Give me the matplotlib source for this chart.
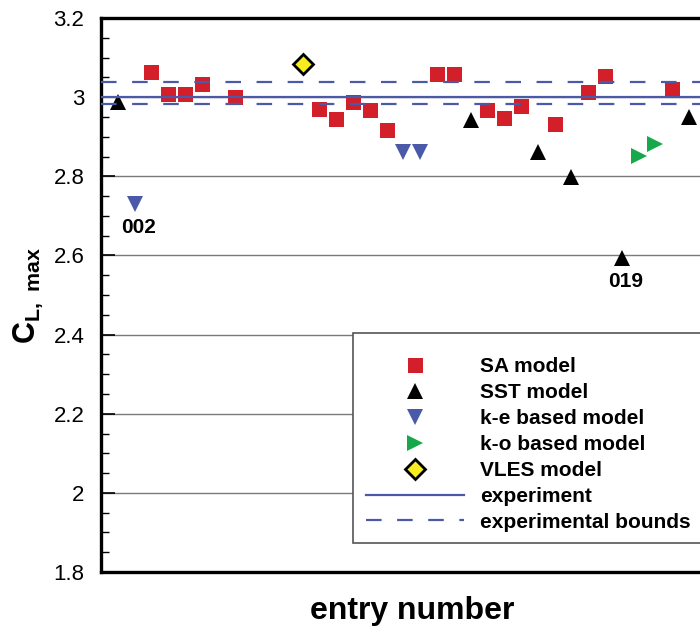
import matplotlib.pyplot as plt
from matplotlib.patches import Rectangle
from matplotlib.ticker import MultipleLocator

plt.rcParams['font.family'] = ['Liberation Sans', 'DejaVu Sans']
plt.rcParams['mathtext.fontset'] = 'custom'
plt.rcParams['mathtext.rm'] = 'Liberation Sans'
plt.rcParams['mathtext.bf'] = 'Liberation Sans:bold'

# CL,max per entry, grouped by turbulence model
sa_entry = [3, 4, 5, 6, 8, 13, 14, 15, 16, 17, 20, 21, 23, 24, 25, 27, 29, 30, 34]
sa_cl = [3.064, 3.008, 3.008, 3.033, 3.000, 2.970, 2.945, 2.988, 2.968, 2.917,
         3.058, 3.058, 2.968, 2.947, 2.978, 2.932, 3.013, 3.053, 3.021]

sst_entry = [1, 22, 26, 28, 31, 35]
sst_cl = [2.988, 2.942, 2.861, 2.798, 2.594, 2.950]

ke_entry = [2, 18, 19]
ke_cl = [2.730, 2.861, 2.861]

ko_entry = [32, 33]
ko_cl = [2.851, 2.882]

vles_entry = [12]
vles_cl = [3.084]

cl_exp = 3.0
cl_exp_bounds = [3.038, 2.983]

# entries called out by number
callouts = [(2, 2.730, '002'), (31, 2.594, '019')]

fig = plt.figure(figsize=(7, 6.35), dpi=100)
ax = fig.add_axes([0.1443, 0.0992, 0.8880, 0.8724])

blue = '#4a5aa8'
ax.plot(sa_entry, sa_cl, 's', color='#d21f2a', ms=10.8, mew=0, zorder=3, label='SA model')
ax.plot(sst_entry, sst_cl, '^', color='black', ms=12, mew=0, zorder=3, label='SST model')
ax.plot(ke_entry, ke_cl, 'v', color=blue, ms=12, mew=0, zorder=3, label='k-e based model')
ax.plot(ko_entry, ko_cl, '>', color='#17a84b', ms=12, mew=0, zorder=3, label='k-o based model')
ax.plot(vles_entry, vles_cl, 'D', color='#f6ec20', mec='black', mew=2, ms=10,
        zorder=3, label='VLES model')
ax.axhline(cl_exp, color=blue, lw=1.6, zorder=4, label='experiment')
ax.axhline(cl_exp_bounds[0], color=blue, lw=1.6, dashes=(7, 7), zorder=4,
           label='experimental bounds')
ax.axhline(cl_exp_bounds[1], color=blue, lw=1.6, dashes=(7, 7), zorder=4)

for x, y, txt in callouts:
    ax.annotate(txt, (x, y), xytext=(3, -17), textcoords='offset points',
                ha='center', va='center', fontsize=15, fontweight='bold')

ax.set_xlim(0, 37)
ax.set_ylim(1.8, 3.2)
ax.set_xticks([])
ax.yaxis.set_major_locator(MultipleLocator(0.2))
ax.yaxis.set_minor_locator(MultipleLocator(0.05))
ax.tick_params(axis='y', which='major', direction='in', length=10, width=1.2,
               labelsize=16, pad=12)
ax.tick_params(axis='y', which='minor', direction='in', length=6, width=1)
ax.yaxis.set_major_formatter(plt.FuncFormatter(lambda v, p: f'{v:g}'))
ax.grid(axis='y', which='major', color='#7a7a7a', lw=1.0, zorder=1)
ax.set_axisbelow(True)
for s in ax.spines.values():
    s.set_linewidth(2.4)

ax.set_ylabel(r'$\mathbf{C}_{\mathbf{L,\ max}}$', fontsize=22, labelpad=6)
ax.set_xlabel('entry number', fontsize=23, fontweight='bold', labelpad=17)

# legend box
box = Rectangle((353 / 700, 1 - 543 / 635), 0.6, 210 / 635, transform=fig.transFigure,
                facecolor='white', edgecolor='#555555', lw=1.2, zorder=4, clip_on=False)
ax.add_patch(box)
leg = ax.legend(loc='upper left', bbox_to_anchor=(356 / 700, 1 - 347 / 635),
                bbox_transform=fig.transFigure, frameon=False, numpoints=1,
                handlelength=4.7, handletextpad=0.77,
                labelspacing=0.33, borderpad=0, prop={'weight': 'bold', 'size': 15})
leg.set_zorder(5)

fig.savefig('out.png', dpi=100)
